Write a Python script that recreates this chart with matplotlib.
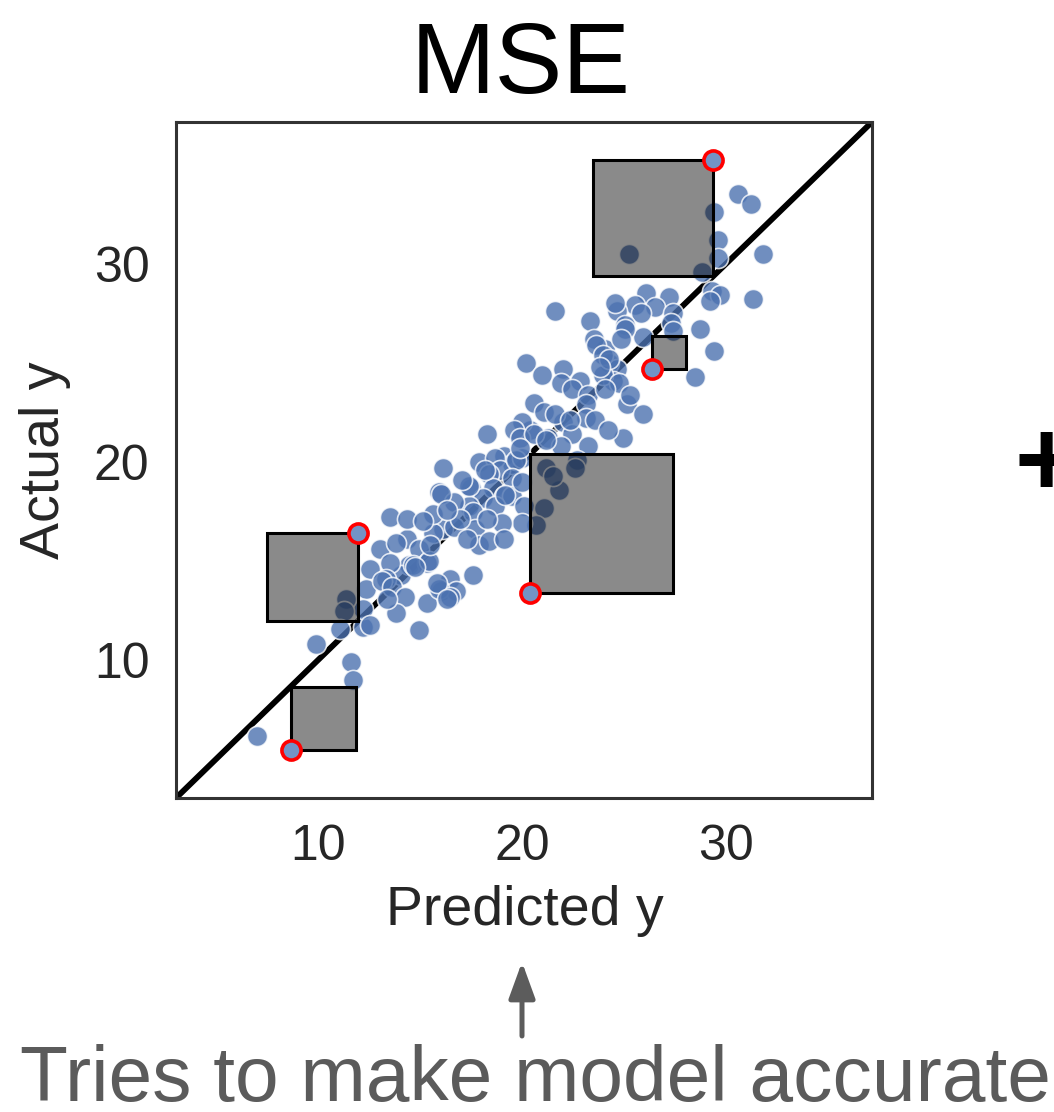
import matplotlib
matplotlib.use("Agg")
import matplotlib.pyplot as plt
from matplotlib.patches import Rectangle, FancyArrowPatch

plt.rcParams['font.family'] = ['Liberation Sans', 'DejaVu Sans']

# predicted vs actual
pred = [
    30.6, 31.2, 29.4, 29.6, 25.25, 31.8, 29.6, 28.8, 29.3, 29.7, 29.2, 31.3,
    26.1, 27.2, 26.5, 25.55, 24.65, 25.85, 27.4, 25.05, 27.3, 28.7, 25.95, 27.4,
    29.4, 28.5, 24.05, 24.25, 24.65, 24.45, 21.6, 23.35, 24.55, 25.05, 24.85, 23.55,
    23.65, 23.95, 20.2, 21.0, 22.0, 21.9, 22.85, 23.95, 24.75, 22.45, 23.25, 24.05,
    25.15, 25.95, 24.95, 23.15, 23.15, 20.6, 21.1, 22.0, 22.45, 21.3, 20.4, 23.25,
    21.9, 24.25,
    20.0, 19.6, 19.9, 20.6, 19.1, 19.5, 20.0, 18.3, 21.2, 16.15, 17.9, 18.7,
    18.9, 18.4, 19.7, 19.5, 19.9, 15.95, 17.5, 18.6, 19.1, 19.5, 18.1, 17.4,
    16.65, 17.6, 18.7, 20.1, 21.1, 20.7, 21.8, 21.2, 21.5, 22.7, 22.6, 20.0, 20.0,
    16.15, 16.65, 15.65, 17.7, 17.9, 17.3, 18.4, 19.0, 19.1, 14.35, 14.95, 14.45,
    15.35, 16.45, 17.6, 16.05, 16.75, 14.05, 16.05, 17.4, 13.55, 14.35, 15.65, 15.15,
    13.05, 13.85, 12.55, 13.55, 14.65, 15.45, 13.35, 12.35, 13.15, 13.65, 14.25, 15.35,
    15.95, 16.45, 13.85, 14.95, 12.2, 12.2, 14.75, 11.4, 11.3, 11.1, 12.55, 9.9,
    11.6, 11.7, 7.0, 15.85, 16.35,
    17.05, 18.2, 19.15, 18.3, 16.95, 16.35, 15.5, 21.6, 22.35, 23.6, 24.2, 25.3,
    23.8, 13.4,
]
actual = [
    33.5, 33.0, 32.6, 31.2, 30.5, 30.5, 30.3, 29.6, 28.6, 28.4, 28.1, 28.2,
    28.5, 28.3, 27.8, 27.9, 27.6, 27.5, 27.5, 26.9, 27.0, 26.7, 26.3, 26.6,
    25.6, 24.3, 25.7, 25.0, 24.7, 24.1, 27.6, 27.1, 28.0, 26.7, 26.2, 26.2,
    25.9, 25.4, 25.0, 24.4, 24.7, 24.0, 24.1, 24.4, 24.0, 23.7, 23.4, 23.7,
    22.9, 22.4, 21.2, 22.9, 22.2, 23.0, 22.5, 22.0, 21.4, 21.2, 21.6, 20.8,
    20.8, 25.2,
    22.0, 21.6, 21.2, 21.4, 20.3, 19.9, 20.2, 21.4, 21.1, 19.7, 20.0, 20.2,
    19.6, 19.4, 20.1, 19.2, 20.7, 18.5, 18.7, 18.7, 18.3, 18.3, 18.2, 17.8,
    18.0, 17.5, 17.8, 17.8, 17.7, 16.8, 18.6, 19.7, 19.3, 20.1, 19.7, 19.0, 16.9,
    16.6, 16.7, 16.4, 16.6, 15.8, 16.1, 16.0, 16.9, 16.1, 16.1, 15.6, 14.8,
    14.9, 14.1, 14.3, 13.5, 13.5, 14.3, 18.4, 18.8, 17.2, 17.1, 17.4, 17.0,
    15.6, 15.9, 14.6, 14.9, 14.8, 15.0, 14.1, 13.6, 14.0, 13.7, 13.2, 12.9,
    13.6, 13.2, 12.4, 11.5, 11.7, 12.6, 14.7, 13.1, 12.5, 11.6, 11.8, 10.8,
    9.9, 9.0, 6.2, 13.9, 13.1,
    19.1, 19.6, 18.35, 17.1, 17.1, 17.6, 15.8, 22.4, 22.1, 22.1, 21.6, 23.4,
    24.8, 13.1,
]

# points whose squared errors are drawn
hl_pred = [29.36, 26.37, 11.97, 20.39, 8.67]
hl_actual = [35.24, 24.70, 16.42, 13.39, 5.47]

blue = '#4C72B0'

fig = plt.figure(figsize=(10.54, 11.12), dpi=100)
ax = fig.add_axes([176 / 1054, 314 / 1112, 696 / 1054, 676 / 1112])

lo, hi = 3.05, 37.15
ax.set_xlim(lo, hi)
ax.set_ylim(lo, hi)

ax.plot([lo, hi], [lo, hi], color='black', lw=4.2, zorder=1)

ax.scatter(pred, actual, s=210, color=blue, alpha=0.8,
           edgecolor='white', linewidth=1.2, zorder=2)

for p, a in zip(hl_pred, hl_actual):
    r = a - p
    ax.add_patch(Rectangle((p, a), -r, -r, facecolor=(0, 0, 0, 0.46),
                           edgecolor='black', lw=2.2, zorder=3))

ax.scatter(hl_pred, hl_actual, s=190, color='#7393c6',
           edgecolor='red', linewidth=2.6, zorder=4)

ax.set_xticks([10, 20, 30])
ax.set_yticks([10, 20, 30])
ax.tick_params(length=0, pad=19, labelsize=36, labelcolor='#262626')
for sp in ax.spines.values():
    sp.set_color('#333333')
    sp.set_linewidth(2.2)

fig.text(0.498, 1 - 925 / 1112, 'Predicted y', ha='center', va='baseline',
         fontsize=40, color='#262626')
fig.text(0.043, 0.5863, 'Actual y', rotation=90, ha='center', va='center',
         fontsize=40, color='#262626')

fig.text(0.494, 1 - 93 / 1112, 'MSE', ha='center', va='baseline',
         fontsize=73, color='black')

fig.text(0.993, 1 - 467 / 1112, '+', ha='center', va='center',
         fontsize=78, fontweight='bold', color='black')

arrow = FancyArrowPatch((522 / 1054, 1 - 1036 / 1112), (522 / 1054, 1 - 962 / 1112),
                        transform=fig.transFigure, arrowstyle='-|>',
                        mutation_scale=1, color='#5c5c5c', lw=3.6,
                        shrinkA=0, shrinkB=0)
arrow.set_arrowstyle('-|>', head_length=22, head_width=8)
fig.add_artist(arrow)

fig.text(0.5076, 1 - 1101 / 1112, 'Tries to make model accurate', ha='center',
         va='baseline', fontsize=56.5, color='#5b5b5b')

fig.savefig('out.png', dpi=100)
plt.close()
